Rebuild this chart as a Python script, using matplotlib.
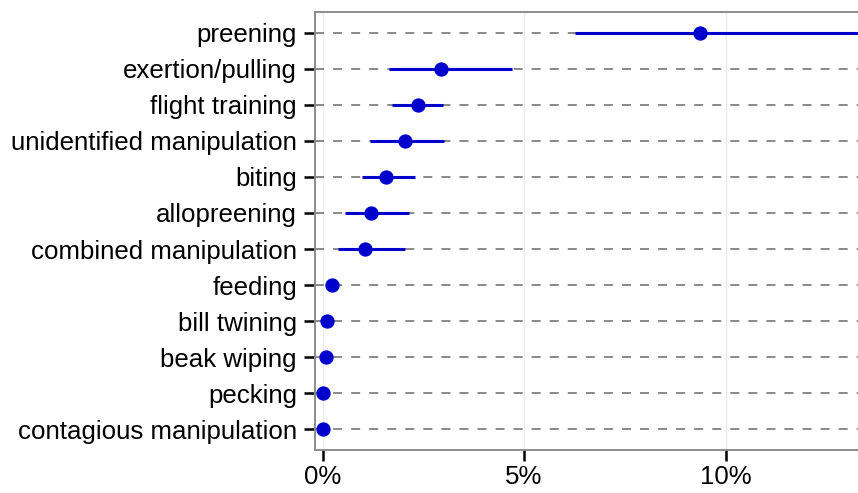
import matplotlib
matplotlib.use("Agg")
import matplotlib.pyplot as plt
from matplotlib.ticker import FuncFormatter

categories = ["preening", "exertion/pulling", "flight training", "unidentified manipulation",
              "biting", "allopreening", "combined manipulation", "feeding", "bill twining",
              "beak wiping", "pecking", "contagious manipulation"]
estimate = [9.37, 2.94, 2.36, 2.04, 1.58, 1.20, 1.06, 0.22, 0.12, 0.09, 0.01, 0.01]
lower = [6.26, 1.65, 1.71, 1.17, 0.97, 0.55, 0.39, 0.22, 0.12, 0.09, 0.01, 0.01]
upper = [14.0, 4.70, 2.98, 3.00, 2.29, 2.14, 2.04, 0.22, 0.12, 0.09, 0.01, 0.01]
xticks = [0, 5, 10]

plt.rcParams['font.family'] = ['Liberation Sans', 'DejaVu Sans']
fig = plt.figure(figsize=(8.58, 4.93), dpi=100)
ax = fig.add_axes([315/858, 1 - 450/493, (858 - 315)/858 + 0.01, (450 - 12)/493])

n = len(categories)
ypos = list(range(n - 1, -1, -1))
blue = '#0000CC'

for y in ypos:
    ax.axhline(y, color='#808080', lw=1.3, ls=(0, (5, 5)), zorder=1)
for xt in xticks:
    ax.axvline(xt, color='#EBEBEB', lw=1.0, zorder=0)

for y, e, lo, hi in zip(ypos, estimate, lower, upper):
    ax.plot([lo, hi], [y, y], color=blue, lw=2.2, solid_capstyle='butt', zorder=3)
ax.plot(estimate, ypos, 'o', color=blue, ms=9.3, zorder=4)

ax.set_xlim(-0.19, 13.5)
ax.set_ylim(-0.58, n - 1 + 0.58)
ax.set_yticks(ypos)
ax.set_yticklabels(categories)
ax.set_xticks(xticks)
ax.xaxis.set_major_formatter(FuncFormatter(lambda v, p: f"{v:g}%"))
ax.tick_params(axis='both', colors='black', labelsize=18.6, width=1.8, length=8)
ax.tick_params(axis='y', pad=5)
ax.tick_params(axis='x', pad=3)

for s in ['left', 'bottom', 'top', 'right']:
    ax.spines[s].set_color('#8C8C8C')
    ax.spines[s].set_linewidth(1.4)

fig.savefig("out.png", dpi=100)
